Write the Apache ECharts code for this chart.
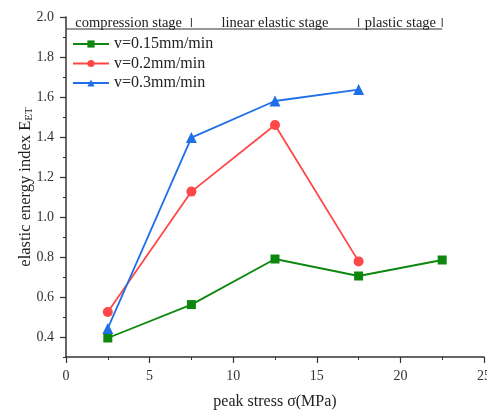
<!DOCTYPE html>
<html><head><meta charset="utf-8">
<script src="https://cdn.jsdelivr.net/npm/echarts@6/dist/echarts.min.js"></script>
<style>html,body{margin:0;padding:0;background:#fff}#c{width:487px;height:412px}</style>
</head><body><div id="c"></div>
<script>
const xValues = [2.5, 7.5, 12.5, 17.5, 22.5];
const v015 = [0.395, 0.562, 0.79, 0.705, 0.785];
const v02 = [0.525, 1.127, 1.46, 0.778];
const v03 = [0.443, 1.397, 1.58, 1.637];
const seriesNames = ['v=0.15mm/min', 'v=0.2mm/min', 'v=0.3mm/min'];
const yMajor = [0.4, 0.6, 0.8, 1.0, 1.2, 1.4, 1.6, 1.8, 2.0];
const stages = ['compression stage', 'linear elastic stage', 'plastic stage'];
const stageBounds = [0, 7.5, 17.5, 22.5];
const headerY = 1.94;

const font = 'Liberation Serif, Times New Roman, serif';
const axisCol = '#333';
function pairs(vals){ return vals.map((v,i)=>[xValues[i], v]); }
function isMajor(v){ return yMajor.some(m => Math.abs(m - v) < 1e-6); }

const chart = echarts.init(document.getElementById('c'));
chart.setOption({
  animation:false,
  grid:{left:66, right:3, top:17, bottom:55, outerBoundsMode:'none', containLabel:false},
  textStyle:{fontFamily:font},
  legend:{
    orient:'vertical', left:67, top:31, itemWidth:36, itemHeight:9, itemGap:3.5,
    textStyle:{fontFamily:font, fontSize:16, color:'#222'},
    data: seriesNames
  },
  xAxis:{
    type:'value', min:0, max:25, interval:5,
    name:'peak stress σ(MPa)', nameLocation:'middle', nameGap:37,
    nameTextStyle:{fontFamily:font, fontSize:16, color:'#222'},
    axisLine:{lineStyle:{color:axisCol, width:1.5}},
    axisTick:{show:true, length:6, lineStyle:{color:axisCol, width:1.2}},
    minorTick:{show:true, splitNumber:2, length:3, lineStyle:{color:axisCol, width:1}},
    axisLabel:{fontFamily:font, fontSize:14, color:'#333', margin:12},
    splitLine:{show:false}
  },
  yAxis:[{
    type:'value', min:0.3, max:2.0, interval:0.1, position:'left',
    name:'elastic energy index E{sub|ET}', nameLocation:'middle', nameGap:31, nameMoveOverlap:false,
    nameTextStyle:{fontFamily:font, fontSize:16.5, color:'#222',
      rich:{sub:{fontSize:11, fontFamily:font, color:'#222', padding:[7,0,0,0]}}},
    axisLine:{show:true, lineStyle:{color:axisCol, width:1.5}},
    axisTick:{show:true, length:3, lineStyle:{color:axisCol, width:1.1}},
    axisLabel:{fontFamily:font, fontSize:14, color:'#333', margin:12,
      formatter:v => isMajor(v) ? v.toFixed(1) : ''},
    splitLine:{show:false}
  },{
    type:'value', min:0.3, max:2.0, position:'left',
    axisLine:{show:false},
    axisTick:{show:true, length:6, customValues:yMajor, lineStyle:{color:axisCol, width:1.2}},
    axisLabel:{show:false},
    splitLine:{show:false}
  }],
  series:[
    {name:seriesNames[0], type:'line', data:pairs(v015), symbol:'rect', symbolSize:9,
      itemStyle:{color:'#0e870e'}, lineStyle:{width:1.8, color:'#0e870e'}},
    {name:seriesNames[1], type:'line', data:pairs(v02), symbol:'circle', symbolSize:10,
      itemStyle:{color:'#ff4747'}, lineStyle:{width:1.8, color:'#ff4747'}},
    {name:seriesNames[2], type:'line', data:pairs(v03), symbol:'triangle', symbolSize:11,
      itemStyle:{color:'#1f6fe6'}, lineStyle:{width:1.8, color:'#1f6fe6'}}
  ]
});

const P = (x,y)=>chart.convertToPixel({gridIndex:0}, [x,y]);
const g = [];
const topY = P(0, 2.0)[1];
const hy = P(0, headerY)[1];
g.push({type:'line', shape:{x1:P(stageBounds[0],0)[0], y1:hy, x2:P(stageBounds[3],0)[0], y2:hy},
  style:{stroke:axisCol, lineWidth:1.2}});
for (let i=1;i<stageBounds.length;i++){
  const x = P(stageBounds[i],0)[0];
  g.push({type:'line', shape:{x1:x, y1:topY+1, x2:x, y2:hy-2}, style:{stroke:axisCol, lineWidth:1}});
}
for (let i=0;i<stages.length;i++){
  const cx = (P(stageBounds[i],0)[0] + P(stageBounds[i+1],0)[0])/2;
  g.push({type:'text', x:cx, y:(topY+hy)/2, style:{text:stages[i], fontFamily:font, fontSize:14.5,
    fill:'#222', align:'center', verticalAlign:'middle'}});
}
chart.setOption({graphic:g});
</script></body></html>
